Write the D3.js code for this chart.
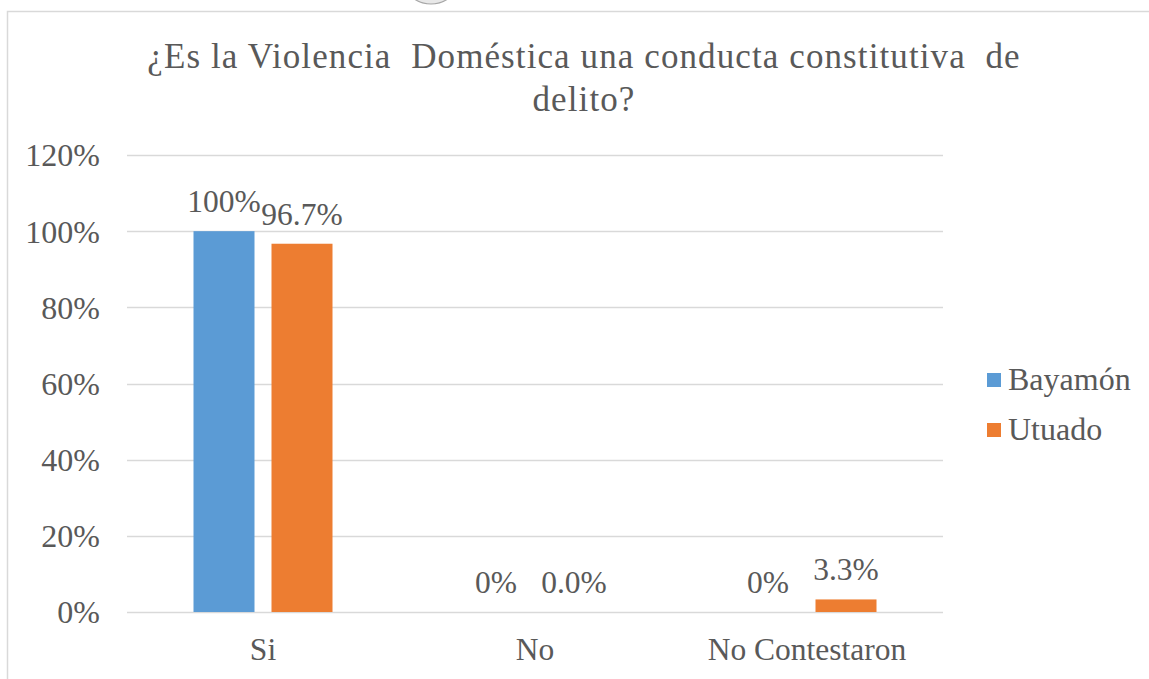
<!DOCTYPE html>
<html>
<head>
<meta charset="utf-8">
<script src="https://cdn.jsdelivr.net/npm/d3@7/dist/d3.min.js"></script>
<style>
  html, body { margin: 0; padding: 0; background: #fff; }
  svg { display: block; }
</style>
</head>
<body>
<svg id="chart" width="1149" height="679"></svg>
<script>
// Survey answers by municipality
const categories = ["Si", "No", "No Contestaron"];
const seriesNames = ["Bayamón", "Utuado"];
const bayamon = [100, 0, 0];
const utuado = [96.7, 0.0, 3.3];
const bayamonLabels = ["100%", "0%", "0%"];
const utuadoLabels = ["96.7%", "0.0%", "3.3%"];
const yTicks = [0, 20, 40, 60, 80, 100, 120];
const titleLines = ["¿Es la Violencia\u00a0 Doméstica una conducta constitutiva\u00a0 de", "delito?"];
const colors = ["#5b9bd5", "#ed7d31"];

const FONT = "Liberation Serif";
const INK = "#595959";

const svg = d3.select("#chart").attr("font-family", FONT);

// chart frame
svg.append("rect")
  .attr("x", 7.5).attr("y", 11.5)
  .attr("width", 1160).attr("height", 700)
  .attr("fill", "#fff").attr("stroke", "#d9d9d9").attr("stroke-width", 1.5);

// selection handle peeking above the frame
svg.append("circle")
  .attr("cx", 431).attr("cy", -26).attr("r", 30)
  .attr("fill", "#e8e8e8").attr("stroke", "#a6a6a6").attr("stroke-width", 1.2);

const plot = { left: 127, right: 943, top: 155, bottom: 612 };

const x0 = d3.scaleBand().domain(categories).range([plot.left, plot.right]).paddingInner(0).paddingOuter(0);
const y = d3.scaleLinear().domain([0, 120]).range([plot.bottom, plot.top]);

// gridlines
svg.append("g").selectAll("line").data(yTicks).join("line")
  .attr("x1", plot.left).attr("x2", plot.right)
  .attr("y1", d => Math.round(y(d)) + 0.5).attr("y2", d => Math.round(y(d)) + 0.5)
  .attr("stroke", "#d9d9d9").attr("stroke-width", 1.3);

// y-axis labels
const yAxis = d3.axisLeft(y).tickValues(yTicks).tickFormat(d => d + "%").tickSize(0).tickPadding(0);
const yg = svg.append("g").attr("transform", "translate(100,0)").call(yAxis)
  .attr("font-family", FONT).attr("font-size", 32);
yg.select(".domain").remove();
yg.selectAll("text").attr("fill", INK).attr("dy", "0.34em");

// x-axis labels
const xAxis = d3.axisBottom(x0).tickSize(0).tickPadding(0);
const xg = svg.append("g").attr("transform", `translate(0,${plot.bottom})`).call(xAxis)
  .attr("font-family", FONT).attr("font-size", 31.5);
xg.select(".domain").remove();
xg.selectAll("text").attr("fill", INK).attr("dy", null).attr("y", 48);

// bars with value labels
const barW = 61, gap = 17;
const series = [
  { name: seriesNames[0], values: bayamon, labels: bayamonLabels, color: colors[0], offset: -(gap / 2 + barW) },
  { name: seriesNames[1], values: utuado, labels: utuadoLabels, color: colors[1], offset: gap / 2 }
];

series.forEach(s => {
  const g = svg.append("g");
  const rows = categories.map((c, i) => ({ c, v: s.values[i], label: s.labels[i] }));
  g.selectAll("rect").data(rows).join("rect")
    .attr("x", d => x0(d.c) + x0.bandwidth() / 2 + s.offset)
    .attr("y", d => y(d.v))
    .attr("width", barW)
    .attr("height", d => y(0) - y(d.v))
    .attr("fill", s.color);
  g.selectAll("text").data(rows).join("text")
    .attr("x", d => x0(d.c) + x0.bandwidth() / 2 + s.offset + barW / 2)
    .attr("y", d => y(d.v) - 19)
    .attr("text-anchor", "middle")
    .attr("fill", INK)
    .attr("font-size", 31.5)
    .text(d => d.label);
});

// title
const title = svg.append("text")
  .attr("text-anchor", "middle")
  .attr("fill", INK)
  .attr("font-size", 35)
  .attr("letter-spacing", 1.1);
titleLines.forEach((line, i) => {
  title.append("tspan").attr("x", 584).attr("y", 68 + i * 43).text(line);
});

// legend
const legend = svg.append("g").selectAll("g").data(series).join("g")
  .attr("transform", (d, i) => `translate(987,${373 + i * 50})`);
legend.append("rect").attr("width", 14).attr("height", 14).attr("fill", d => d.color);
legend.append("text").attr("x", 21).attr("y", 17)
  .attr("fill", INK)
  .attr("font-size", 32)
  .text(d => d.name);
</script>
</body>
</html>
